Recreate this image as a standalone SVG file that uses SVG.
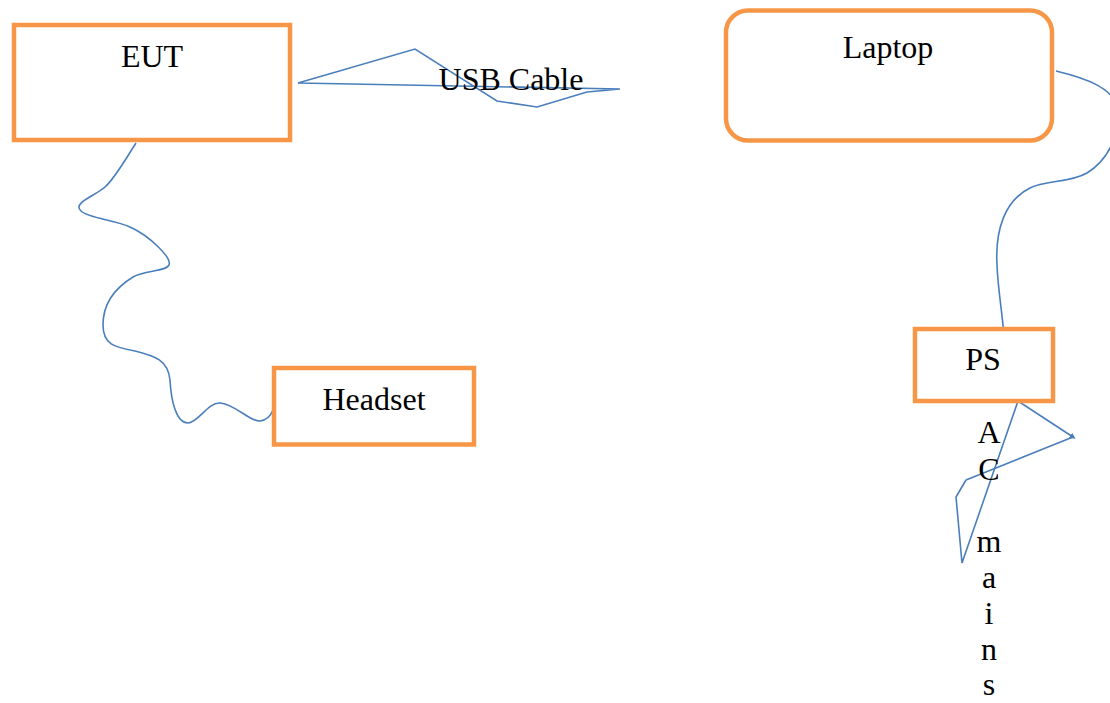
<svg xmlns="http://www.w3.org/2000/svg" width="1110" height="703" viewBox="0 0 1110 703">
<style>
.box{fill:#FFFFFF;stroke:#F79646;stroke-width:4.5}
.lbl{font-family:"Liberation Serif","Times New Roman",serif;font-size:32px;fill:#000000}
.wire{fill:none;stroke:#4A7EBB;stroke-width:1.6;stroke-linejoin:miter}
</style>
<defs>
<marker id="tip" markerWidth="6" markerHeight="6" refX="3" refY="3" orient="auto" markerUnits="userSpaceOnUse">
<path d="M0,0 L6,3 L0,6 Z" fill="#4A7EBB"/>
</marker>
</defs>
<rect width="1110" height="703" fill="#FFFFFF"/>
<g id="connectors">
<path class="wire" d="M620,89 L587,92 L537,107 L497,101 L415,49 L298,83 L620,89"/>
<path class="wire" d="M136,143 C125,160 115,178 105,187 C95,196 72,203 81,211 C88,218 115,220 130,227 C150,236 172,258 169,265 C165,272 145,270 133,277 C115,288 103,303 103,325 C103,345 115,347 135,351 C155,356 168,360 170,380 C171,400 176,423 188,423 C198,423 208,402 220,403 C235,404 250,422 260,421 C268,420 271,415 273,410"/>
<path class="wire" d="M1056,71 C1085,78 1115,88 1118,110 C1120,135 1108,160 1087,173 C1070,183 1045,180 1030,188 C1005,200 995,230 997,265 C998,290 1002,310 1004,336"/>
<path class="wire" d="M966,480 L956,497 L962,563 L1018,401 L1073,437" marker-end="url(#tip)"/>
<path class="wire" d="M1073,437 L966,480"/>
</g>
<g id="eut">
<rect class="box" x="14" y="25" width="276" height="115"/>
<text class="lbl" x="152" y="67" text-anchor="middle">EUT</text>
</g>
<g id="laptop">
<rect class="box" x="726" y="10.5" width="326" height="130" rx="22" ry="22"/>
<text class="lbl" x="888" y="58" text-anchor="middle">Laptop</text>
</g>
<g id="headset">
<rect class="box" x="274" y="368" width="200" height="76.5"/>
<text class="lbl" x="374" y="410" text-anchor="middle">Headset</text>
</g>
<g id="ps">
<rect class="box" x="915" y="329" width="138" height="72"/>
<text class="lbl" x="983" y="370" text-anchor="middle">PS</text>
</g>
<g id="usb-label">
<text class="lbl" x="511" y="90" text-anchor="middle">USB Cable</text>
</g>
<g id="ac-mains">
<text class="lbl" text-anchor="middle"><tspan x="989" y="443">A</tspan><tspan x="989" y="480">C</tspan><tspan x="989" y="552">m</tspan><tspan x="989" y="588">a</tspan><tspan x="989" y="624">i</tspan><tspan x="989" y="660">n</tspan><tspan x="989" y="695">s</tspan></text>
</g>
</svg>
